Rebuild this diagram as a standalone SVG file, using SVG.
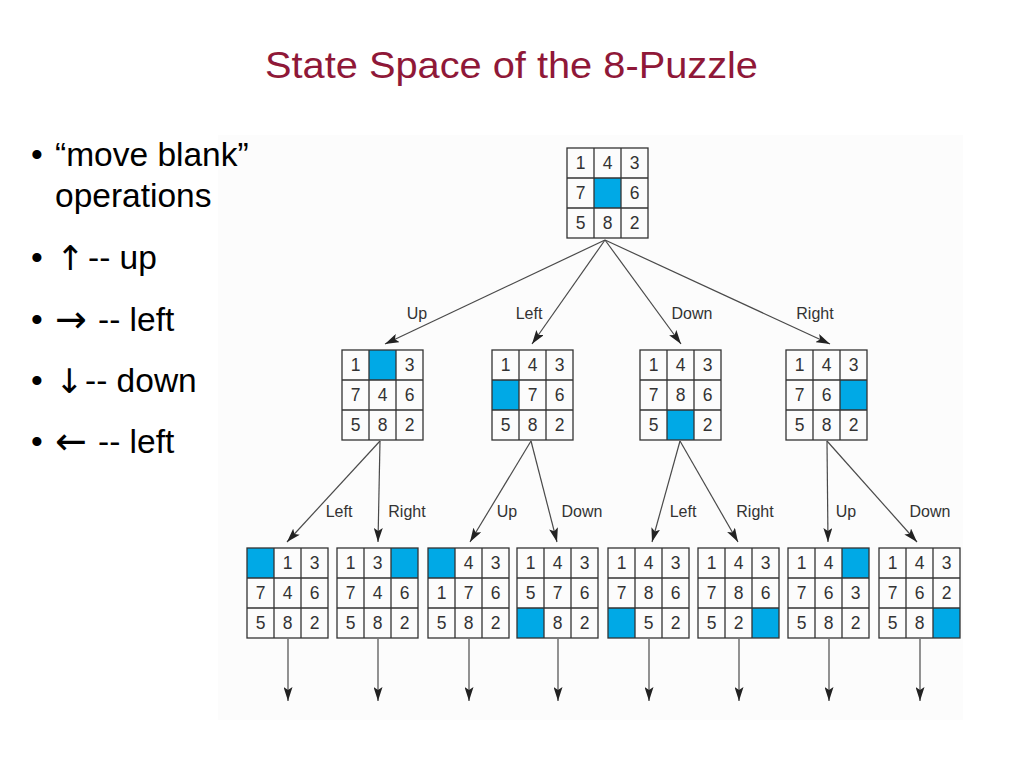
<svg xmlns="http://www.w3.org/2000/svg" xmlns:xlink="http://www.w3.org/1999/xlink" width="1024" height="768" viewBox="0 0 1024 768">
<style>
.title{font-family:"Liberation Sans",Arial,sans-serif;font-size:36px;fill:#8f1838}
.bul{font-family:"Liberation Sans",Arial,sans-serif;font-size:33.5px;fill:#000}
.arr{font-family:"DejaVu Sans",sans-serif;font-size:34px;fill:#000}
.harr{font-family:"DejaVu Sans",sans-serif;font-size:38px;fill:#000}
.num{font-family:"Liberation Sans",Arial,sans-serif;font-size:17.5px;fill:#333;text-anchor:middle}
.lbl{font-family:"Liberation Sans",Arial,sans-serif;font-size:16px;fill:#333;text-anchor:middle}
.blank{fill:#00a9e6}
.gridline{fill:none;stroke:#333;stroke-width:1.3}
.conn{stroke:#4a4a4a;stroke-width:1.2;fill:none;marker-end:url(#ah)}
</style>
<defs>
<marker id="ah" markerUnits="userSpaceOnUse" markerWidth="15" markerHeight="9" refX="14" refY="4.5" orient="auto">
<path d="M0,0 L14,4.5 L0,9 L3,4.5 z" fill="#222"/>
</marker>
<g id="grid">
<rect class="gridline" x="0" y="0" width="81" height="90"/>
<path class="gridline" d="M27,0 V90 M54,0 V90 M0,30 H81 M0,60 H81"/>
</g>
</defs>
<rect width="1024" height="768" fill="#fff"/>
<rect x="218" y="135" width="745" height="585" fill="#fcfcfc"/>
<text class="title" x="265" y="78" textLength="493" lengthAdjust="spacingAndGlyphs">State Space of the 8-Puzzle</text>
<g id="bullets">
<text class="bul" x="31" y="166">•</text><text class="bul" x="55" y="166">“move blank”</text>
<text class="bul" x="55" y="207">operations</text>
<text class="bul" x="31" y="269">•</text><text class="arr" x="56" y="270">↑</text><text class="bul" x="88" y="269">-- up</text>
<text class="bul" x="31" y="331">•</text><text class="harr" x="55" y="332">→</text><text class="bul" x="98" y="331">-- left</text>
<text class="bul" x="31" y="392">•</text><text class="arr" x="55" y="393">↓</text><text class="bul" x="85" y="392">-- down</text>
<text class="bul" x="31" y="453">•</text><text class="harr" x="55" y="454">←</text><text class="bul" x="98" y="453">-- left</text>
</g>
<g id="connectors">
<line class="conn" x1="605" y1="240" x2="385" y2="344"/>
<line class="conn" x1="605" y1="240" x2="532" y2="344"/>
<line class="conn" x1="605" y1="240" x2="681" y2="344"/>
<line class="conn" x1="605" y1="240" x2="830" y2="344"/>
<line class="conn" x1="380" y1="441" x2="287" y2="542"/>
<line class="conn" x1="380" y1="441" x2="378" y2="542"/>
<line class="conn" x1="531" y1="441" x2="470" y2="542"/>
<line class="conn" x1="531" y1="441" x2="557" y2="542"/>
<line class="conn" x1="680" y1="441" x2="652" y2="542"/>
<line class="conn" x1="680" y1="441" x2="738" y2="542"/>
<line class="conn" x1="827" y1="441" x2="828" y2="542"/>
<line class="conn" x1="827" y1="441" x2="917" y2="542"/>
<line class="conn" x1="288" y1="639" x2="288" y2="701"/>
<line class="conn" x1="378" y1="639" x2="378" y2="701"/>
<line class="conn" x1="469" y1="639" x2="469" y2="701"/>
<line class="conn" x1="558" y1="639" x2="558" y2="701"/>
<line class="conn" x1="649" y1="639" x2="649" y2="701"/>
<line class="conn" x1="739" y1="639" x2="739" y2="701"/>
<line class="conn" x1="829" y1="639" x2="829" y2="701"/>
<line class="conn" x1="920" y1="639" x2="920" y2="701"/>
<text class="lbl" x="417" y="319">Up</text>
<text class="lbl" x="529" y="319">Left</text>
<text class="lbl" x="692" y="319">Down</text>
<text class="lbl" x="815" y="319">Right</text>
<text class="lbl" x="339" y="517">Left</text>
<text class="lbl" x="407" y="517">Right</text>
<text class="lbl" x="507" y="517">Up</text>
<text class="lbl" x="582" y="517">Down</text>
<text class="lbl" x="683" y="517">Left</text>
<text class="lbl" x="755" y="517">Right</text>
<text class="lbl" x="846" y="517">Up</text>
<text class="lbl" x="930" y="517">Down</text>
</g>
<g id="root" transform="translate(567,148)">
<rect class="blank" x="27" y="30" width="27" height="30"/>
<use xlink:href="#grid" href="#grid"/>
<text class="num" x="13.5" y="21">1</text><text class="num" x="40.5" y="21">4</text><text class="num" x="67.5" y="21">3</text>
<text class="num" x="13.5" y="51">7</text><text class="num" x="67.5" y="51">6</text>
<text class="num" x="13.5" y="81">5</text><text class="num" x="40.5" y="81">8</text><text class="num" x="67.5" y="81">2</text>
</g>
<g id="n_up" transform="translate(342,350)">
<rect class="blank" x="27" y="0" width="27" height="30"/>
<use xlink:href="#grid" href="#grid"/>
<text class="num" x="13.5" y="21">1</text><text class="num" x="67.5" y="21">3</text>
<text class="num" x="13.5" y="51">7</text><text class="num" x="40.5" y="51">4</text><text class="num" x="67.5" y="51">6</text>
<text class="num" x="13.5" y="81">5</text><text class="num" x="40.5" y="81">8</text><text class="num" x="67.5" y="81">2</text>
</g>
<g id="n_left" transform="translate(492,350)">
<rect class="blank" x="0" y="30" width="27" height="30"/>
<use xlink:href="#grid" href="#grid"/>
<text class="num" x="13.5" y="21">1</text><text class="num" x="40.5" y="21">4</text><text class="num" x="67.5" y="21">3</text>
<text class="num" x="40.5" y="51">7</text><text class="num" x="67.5" y="51">6</text>
<text class="num" x="13.5" y="81">5</text><text class="num" x="40.5" y="81">8</text><text class="num" x="67.5" y="81">2</text>
</g>
<g id="n_down" transform="translate(640,350)">
<rect class="blank" x="27" y="60" width="27" height="30"/>
<use xlink:href="#grid" href="#grid"/>
<text class="num" x="13.5" y="21">1</text><text class="num" x="40.5" y="21">4</text><text class="num" x="67.5" y="21">3</text>
<text class="num" x="13.5" y="51">7</text><text class="num" x="40.5" y="51">8</text><text class="num" x="67.5" y="51">6</text>
<text class="num" x="13.5" y="81">5</text><text class="num" x="67.5" y="81">2</text>
</g>
<g id="n_right" transform="translate(786,350)">
<rect class="blank" x="54" y="30" width="27" height="30"/>
<use xlink:href="#grid" href="#grid"/>
<text class="num" x="13.5" y="21">1</text><text class="num" x="40.5" y="21">4</text><text class="num" x="67.5" y="21">3</text>
<text class="num" x="13.5" y="51">7</text><text class="num" x="40.5" y="51">6</text>
<text class="num" x="13.5" y="81">5</text><text class="num" x="40.5" y="81">8</text><text class="num" x="67.5" y="81">2</text>
</g>
<g id="n_up_left" transform="translate(247,548)">
<rect class="blank" x="0" y="0" width="27" height="30"/>
<use xlink:href="#grid" href="#grid"/>
<text class="num" x="40.5" y="21">1</text><text class="num" x="67.5" y="21">3</text>
<text class="num" x="13.5" y="51">7</text><text class="num" x="40.5" y="51">4</text><text class="num" x="67.5" y="51">6</text>
<text class="num" x="13.5" y="81">5</text><text class="num" x="40.5" y="81">8</text><text class="num" x="67.5" y="81">2</text>
</g>
<g id="n_up_right" transform="translate(337,548)">
<rect class="blank" x="54" y="0" width="27" height="30"/>
<use xlink:href="#grid" href="#grid"/>
<text class="num" x="13.5" y="21">1</text><text class="num" x="40.5" y="21">3</text>
<text class="num" x="13.5" y="51">7</text><text class="num" x="40.5" y="51">4</text><text class="num" x="67.5" y="51">6</text>
<text class="num" x="13.5" y="81">5</text><text class="num" x="40.5" y="81">8</text><text class="num" x="67.5" y="81">2</text>
</g>
<g id="n_left_up" transform="translate(428,548)">
<rect class="blank" x="0" y="0" width="27" height="30"/>
<use xlink:href="#grid" href="#grid"/>
<text class="num" x="40.5" y="21">4</text><text class="num" x="67.5" y="21">3</text>
<text class="num" x="13.5" y="51">1</text><text class="num" x="40.5" y="51">7</text><text class="num" x="67.5" y="51">6</text>
<text class="num" x="13.5" y="81">5</text><text class="num" x="40.5" y="81">8</text><text class="num" x="67.5" y="81">2</text>
</g>
<g id="n_left_down" transform="translate(517,548)">
<rect class="blank" x="0" y="60" width="27" height="30"/>
<use xlink:href="#grid" href="#grid"/>
<text class="num" x="13.5" y="21">1</text><text class="num" x="40.5" y="21">4</text><text class="num" x="67.5" y="21">3</text>
<text class="num" x="13.5" y="51">5</text><text class="num" x="40.5" y="51">7</text><text class="num" x="67.5" y="51">6</text>
<text class="num" x="40.5" y="81">8</text><text class="num" x="67.5" y="81">2</text>
</g>
<g id="n_down_left" transform="translate(608,548)">
<rect class="blank" x="0" y="60" width="27" height="30"/>
<use xlink:href="#grid" href="#grid"/>
<text class="num" x="13.5" y="21">1</text><text class="num" x="40.5" y="21">4</text><text class="num" x="67.5" y="21">3</text>
<text class="num" x="13.5" y="51">7</text><text class="num" x="40.5" y="51">8</text><text class="num" x="67.5" y="51">6</text>
<text class="num" x="40.5" y="81">5</text><text class="num" x="67.5" y="81">2</text>
</g>
<g id="n_down_right" transform="translate(698,548)">
<rect class="blank" x="54" y="60" width="27" height="30"/>
<use xlink:href="#grid" href="#grid"/>
<text class="num" x="13.5" y="21">1</text><text class="num" x="40.5" y="21">4</text><text class="num" x="67.5" y="21">3</text>
<text class="num" x="13.5" y="51">7</text><text class="num" x="40.5" y="51">8</text><text class="num" x="67.5" y="51">6</text>
<text class="num" x="13.5" y="81">5</text><text class="num" x="40.5" y="81">2</text>
</g>
<g id="n_right_up" transform="translate(788,548)">
<rect class="blank" x="54" y="0" width="27" height="30"/>
<use xlink:href="#grid" href="#grid"/>
<text class="num" x="13.5" y="21">1</text><text class="num" x="40.5" y="21">4</text>
<text class="num" x="13.5" y="51">7</text><text class="num" x="40.5" y="51">6</text><text class="num" x="67.5" y="51">3</text>
<text class="num" x="13.5" y="81">5</text><text class="num" x="40.5" y="81">8</text><text class="num" x="67.5" y="81">2</text>
</g>
<g id="n_right_down" transform="translate(879,548)">
<rect class="blank" x="54" y="60" width="27" height="30"/>
<use xlink:href="#grid" href="#grid"/>
<text class="num" x="13.5" y="21">1</text><text class="num" x="40.5" y="21">4</text><text class="num" x="67.5" y="21">3</text>
<text class="num" x="13.5" y="51">7</text><text class="num" x="40.5" y="51">6</text><text class="num" x="67.5" y="51">2</text>
<text class="num" x="13.5" y="81">5</text><text class="num" x="40.5" y="81">8</text>
</g>
</svg>
